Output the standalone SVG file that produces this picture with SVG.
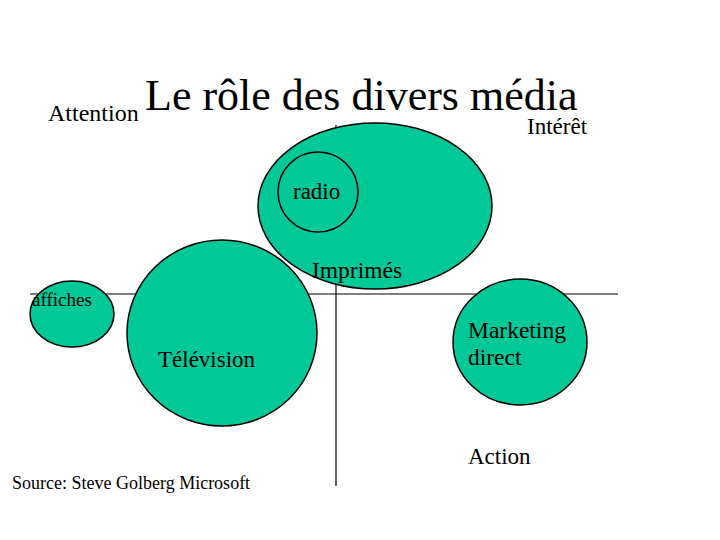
<svg xmlns="http://www.w3.org/2000/svg" width="720" height="540" viewBox="0 0 720 540">
<style>
text{font-family:"Liberation Serif","Times New Roman",serif;fill:#000}
.c{fill:#00C896;stroke:#000;stroke-width:1.5}
.l{stroke:#000;stroke-width:1.2}
</style>
<rect width="720" height="540" fill="#fff"/>
<g id="axes">
<line class="l" x1="336" y1="125" x2="336" y2="486"/>
<line class="l" x1="30" y1="294" x2="618" y2="294"/>
</g>
<g id="imprimes"><ellipse class="c" cx="375" cy="206" rx="117" ry="83"/><text x="312" y="278" font-size="23.5">Imprimés</text></g>
<g id="radio"><circle class="c" cx="318" cy="192" r="40"/><text x="293" y="199" font-size="23">radio</text></g>
<g id="television"><ellipse class="c" cx="222" cy="333" rx="95" ry="93"/><text x="158" y="367" font-size="23">Télévision</text></g>
<g id="affiches"><ellipse class="c" cx="72" cy="314" rx="42" ry="33"/><text x="32" y="306" font-size="19">affiches</text></g>
<g id="marketing"><ellipse class="c" cx="520" cy="342" rx="67" ry="63"/><text x="468" y="338" font-size="23.5">Marketing</text><text x="468" y="365" font-size="23.5">direct</text></g>
<text x="145" y="110" font-size="44">Le rôle des divers média</text>
<text x="48" y="121" font-size="24">Attention</text>
<text x="527" y="134" font-size="23">Intérêt</text>
<text x="468" y="464" font-size="23">Action</text>
<text x="12" y="489" font-size="18">Source: Steve Golberg Microsoft</text>
</svg>
